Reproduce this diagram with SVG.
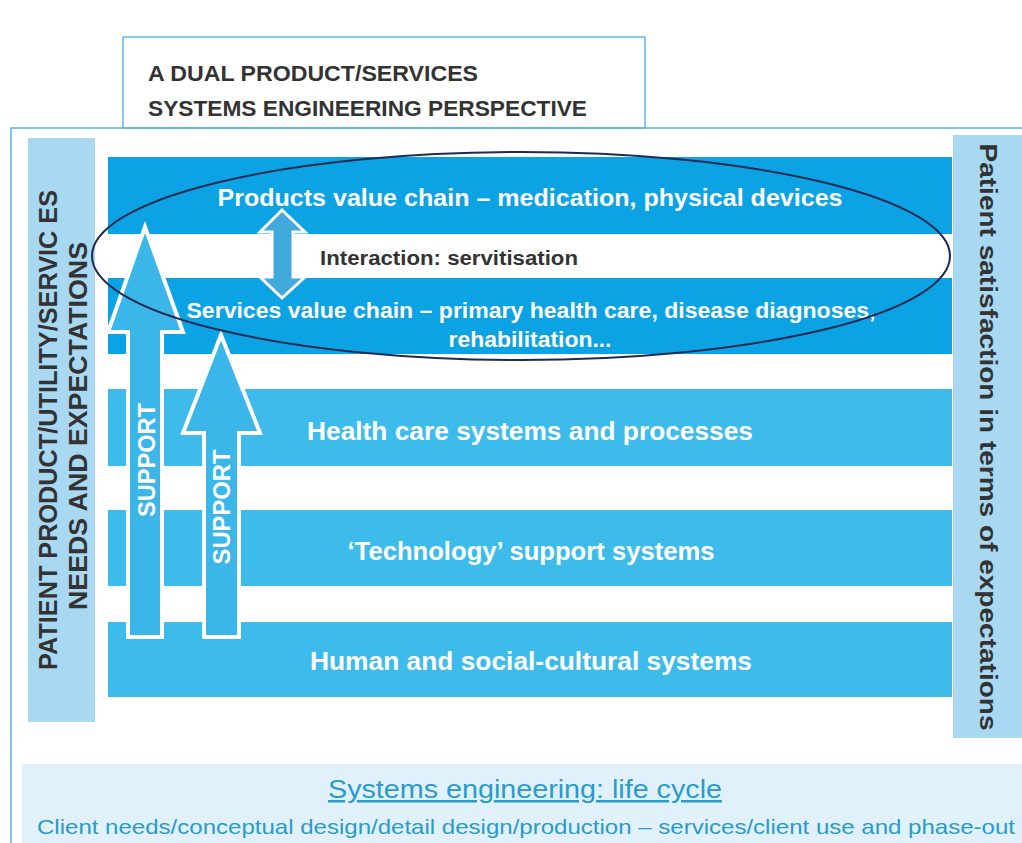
<svg xmlns="http://www.w3.org/2000/svg" width="1022" height="843" viewBox="0 0 1022 843">
  <style>
    .frame { fill: none; stroke: #5ab4d6; stroke-width: 1.5; }
    .side { fill: #a9d8f2; }
    .band-dark { fill: #0ba3e3; }
    .band-light { fill: #3dbcec; }
    .arrow { fill: #3ab6e8; stroke: #ffffff; stroke-width: 4; stroke-linejoin: miter; }
    .dbl { fill: #42a9dc; stroke: #ffffff; stroke-width: 3; }
    .wt { font-family: "Liberation Sans", Arial, sans-serif; font-weight: bold; fill: #ffffff; text-anchor: middle; }
    .dk { font-family: "Liberation Sans", Arial, sans-serif; fill: #333333; }
    .blue { font-family: "Liberation Sans", Arial, sans-serif; fill: #2a9bcb; text-anchor: middle; }
  </style>

  <rect width="1022" height="843" fill="#ffffff"/>

  <!-- title box -->
  <g id="title">
    <rect x="123" y="37" width="522" height="91" fill="#ffffff" stroke="#62bde0" stroke-width="1.5"/>
    <text class="dk" x="148" y="81" font-size="22" font-weight="bold" fill="#3b3b3b" textLength="330" lengthAdjust="spacingAndGlyphs">A DUAL PRODUCT/SERVICES</text>
    <text class="dk" x="148" y="116" font-size="22" font-weight="bold" fill="#3b3b3b" textLength="439" lengthAdjust="spacingAndGlyphs">SYSTEMS ENGINEERING PERSPECTIVE</text>
  </g>

  <!-- outer frame -->
  <path class="frame" d="M1022,128 H11 V843"/>

  <!-- side panels -->
  <g id="needs">
    <rect class="side" x="28" y="138" width="67" height="584"/>
    <text class="dk" transform="translate(57,430) rotate(-90)" text-anchor="middle" font-size="25" font-weight="bold" textLength="480" lengthAdjust="spacingAndGlyphs">PATIENT PRODUCT/UTILITY/SERVIC ES</text>
    <text class="dk" transform="translate(87,426) rotate(-90)" text-anchor="middle" font-size="25" font-weight="bold" textLength="368" lengthAdjust="spacingAndGlyphs">NEEDS AND EXPECTATIONS</text>
  </g>
  <g id="satisfaction">
    <rect class="side" x="953" y="135" width="69" height="603"/>
    <text class="dk" transform="translate(980,437) rotate(90)" text-anchor="middle" font-size="23" font-weight="bold" fill="#2a2a2a" textLength="587" lengthAdjust="spacingAndGlyphs">Patient satisfaction in terms of expectations</text>
  </g>

  <!-- layered bands -->
  <g id="products">
    <rect class="band-dark" x="108" y="157" width="844" height="77"/>
  </g>
  <g id="services">
    <rect class="band-dark" x="108" y="278" width="844" height="76"/>
  </g>
  <g id="health">
    <rect class="band-light" x="108" y="389" width="844" height="77"/>
    <text class="wt" x="530" y="440" font-size="26" textLength="446" lengthAdjust="spacingAndGlyphs">Health care systems and processes</text>
  </g>
  <g id="technology">
    <rect class="band-light" x="108" y="510" width="844" height="76"/>
    <text class="wt" x="531" y="560" font-size="26" textLength="367" lengthAdjust="spacingAndGlyphs">‘Technology’ support systems</text>
  </g>
  <g id="human">
    <rect class="band-light" x="108" y="622" width="844" height="75"/>
    <text class="wt" x="531" y="670" font-size="26" textLength="442" lengthAdjust="spacingAndGlyphs">Human and social-cultural systems</text>
  </g>

  <!-- support arrows and interaction arrow -->
  <g id="connectors">
    <polygon class="arrow" points="145,227 183,332 162,332 162,637 128,637 128,332 108,332"/>
    <polygon class="arrow" points="221,335 260,433 239,433 239,637 204,637 204,433 183,433"/>
    <polygon class="dbl" points="282,210 305,232 293,232 293,277 305,277 282,298 260,277 272,277 272,232 260,232"/>
  </g>

  <g id="support-labels">
    <text class="wt" transform="translate(155,460) rotate(-90)" font-size="23" textLength="114" lengthAdjust="spacingAndGlyphs">SUPPORT</text>
    <text class="wt" transform="translate(230,507) rotate(-90)" font-size="23" textLength="115" lengthAdjust="spacingAndGlyphs">SUPPORT</text>
  </g>

  <!-- interaction zone -->
  <g id="interaction">
    <text class="wt" x="530" y="206" font-size="24" textLength="625" lengthAdjust="spacingAndGlyphs">Products value chain – medication, physical devices</text>
    <text class="dk" x="320" y="265" font-size="20" font-weight="bold" fill="#3a3a3a" textLength="258" lengthAdjust="spacingAndGlyphs">Interaction: servitisation</text>
    <text class="wt" x="531" y="318" font-size="22" textLength="689" lengthAdjust="spacingAndGlyphs">Services value chain – primary health care, disease diagnoses,</text>
    <text class="wt" x="530" y="347" font-size="22" textLength="163" lengthAdjust="spacingAndGlyphs">rehabilitation...</text>
    <ellipse cx="521" cy="256" rx="429" ry="104" fill="none" stroke="#1c2b52" stroke-width="2"/>
  </g>

  <!-- life cycle footer -->
  <g id="lifecycle">
    <rect x="22" y="764" width="1000" height="79" fill="#e0f1fb"/>
    <text class="blue" x="525" y="798" font-size="25" text-decoration="underline" textLength="394" lengthAdjust="spacingAndGlyphs">Systems engineering: life cycle</text>
    <text class="blue" x="526" y="834" font-size="21" fill="#2196c8" textLength="978" lengthAdjust="spacingAndGlyphs">Client needs/conceptual design/detail design/production – services/client use and phase-out</text>
  </g>
</svg>
